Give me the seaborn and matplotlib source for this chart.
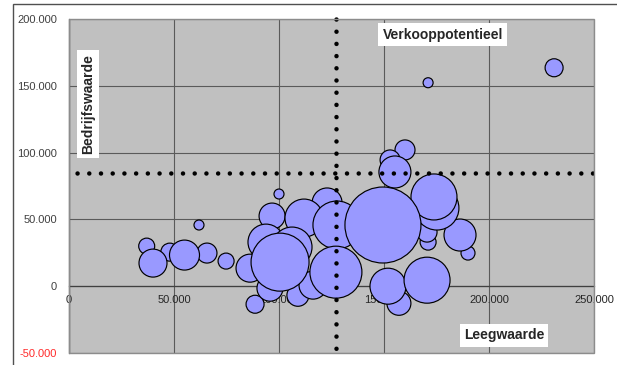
import numpy as np
import pandas as pd
import matplotlib
matplotlib.use("Agg")
import matplotlib.pyplot as plt
from matplotlib.patches import Rectangle
from matplotlib.ticker import FixedLocator
import seaborn as sns

# Portefeuille: leegwaarde (x), bedrijfswaarde (y), omvang (bubble area)
leegwaarde = [37000, 40000, 48000, 55000, 65700, 61900, 74800, 86200, 88600,
              100000, 96700, 93800, 95700, 100500, 106200, 111900, 109000,
              116200, 122900, 127600, 127100, 160000, 152900, 155200, 149500,
              175200, 173800, 186200, 190000, 170500, 171000, 170500, 151900,
              157100, 231000, 171000]
bedrijfswaarde = [30000, 17300, 25500, 23300, 24800, 45800, 18800, 13500,
                  -13500, 69000, 52500, 33000, -1500, 18000, 29300, 51000,
                  -6800, 800, 62300, 45800, 10500, 102000, 94500, 85500, 45800,
                  58500, 66800, 38300, 24800, 40500, 33000, 4500, 0, -12800,
                  163500, 152300]
omvang = [64, 196, 81, 225, 100, 25, 64, 196, 81, 25, 169, 324, 169, 841, 400,
          361, 121, 196, 225, 576, 676, 100, 100, 256, 1444, 484, 529, 256, 49,
          100, 64, 529, 324, 144, 81, 25]

# Reference lines splitting the quadrants
grens_leegwaarde = 127000
grens_bedrijfswaarde = 85000

x_ticks = [0, 50000, 100000, 150000, 200000, 250000]
y_ticks = [-50000, 0, 50000, 100000, 150000, 200000]

sns.set_style("white")
plt.rcParams["font.family"] = ["Liberation Sans", "DejaVu Sans"]

DPI = 100
fig = plt.figure(figsize=(6.17, 3.65), dpi=DPI)
ax = fig.add_axes([69 / 617, 1 - 353 / 365, 525 / 617, 334 / 365])
ax.set_facecolor("#C0C0C0")

df = pd.DataFrame({"leegwaarde": leegwaarde,
                   "bedrijfswaarde": bedrijfswaarde,
                   "omvang": omvang}).sort_values("omvang")

# bubble area proportional to omvang
px_to_pt = 72 / DPI
max_r_px = np.sqrt(df["omvang"].max())
s_max = (2 * max_r_px * px_to_pt) ** 2
sns.scatterplot(data=df, x="leegwaarde", y="bedrijfswaarde", size="omvang",
                sizes=(0, s_max), size_norm=(0, df["omvang"].max()),
                color="#9999FF", edgecolor="black", linewidth=0.85,
                alpha=1, legend=False, ax=ax, zorder=3)

ax.set_xlim(0, 250000)
ax.set_ylim(-50000, 200000)

# grid
ax.xaxis.set_major_locator(FixedLocator(x_ticks))
ax.yaxis.set_major_locator(FixedLocator(y_ticks))
ax.grid(True, color="#5a5a5a", linewidth=0.8)
ax.set_axisbelow(True)

fmt = lambda v: f"{v:,.0f}".replace(",", ".")
ax.set_xticklabels([fmt(v) for v in x_ticks])
ax.set_yticklabels([fmt(v) for v in y_ticks])
for lab, v in zip(ax.get_yticklabels(), y_ticks):
    lab.set_color("#ff2a2a" if v < 0 else "#404040")
for lab in ax.get_xticklabels():
    lab.set_color("#404040")

ax.tick_params(axis="both", labelsize=8, length=2.5, width=0.8,
               color="#404040", direction="out")
ax.tick_params(axis="x", pad=4)
ax.tick_params(axis="y", pad=6)

# axes: x axis crosses at 0
ax.spines["bottom"].set_position(("data", 0))
ax.spines["bottom"].set_color("#404040")
ax.spines["bottom"].set_linewidth(0.9)
ax.spines["left"].set_color("#404040")
ax.spines["left"].set_linewidth(0.9)
for side in ("top", "right"):
    ax.spines[side].set_visible(False)
ax.add_patch(Rectangle((0, 0), 1, 1, transform=ax.transAxes, fill=False,
                       edgecolor="#8c8c8c", linewidth=1.0, zorder=5,
                       clip_on=False))

ax.set_xlabel("")
ax.set_ylabel("")

# dotted quadrant lines
dot_lw = 4.5 * px_to_pt
h_gap = 11.67 * px_to_pt / dot_lw
v_gap = 12.15 * px_to_pt / dot_lw
ax.axhline(grens_bedrijfswaarde, color="black", linewidth=dot_lw,
           linestyle=(h_gap - 8 * px_to_pt / dot_lw, (0.01, h_gap)),
           dash_capstyle="round", zorder=4)
y_lo, y_hi = ax.get_ylim()
ax.plot([grens_leegwaarde, grens_leegwaarde], [y_hi, y_lo], color="black",
        linewidth=dot_lw, linestyle=(0, (0.01, v_gap)),
        dash_capstyle="round", zorder=4, clip_on=False)

# quadrant labels
box = dict(boxstyle="square,pad=0.3", facecolor="white", edgecolor="none")
ax.text(9000, 136500, "Bedrijfswaarde", rotation=90, ha="center",
        va="center", fontsize=10, fontweight="bold", bbox=box, zorder=6)
ax.text(178000, 188300, "Verkooppotentieel", ha="center", va="center",
        fontsize=10, fontweight="bold", bbox=box, zorder=6)
ax.text(207100, -36800, "Leegwaarde", ha="center", va="center",
        fontsize=10, fontweight="bold", bbox=box, zorder=6)

# outer chart frame
fig.add_artist(Rectangle((13 / 617, -0.2), 1.2, 1 - 4 / 365 + 0.2,
                         transform=fig.transFigure, fill=False,
                         edgecolor="#505050", linewidth=1.0))

fig.savefig("out.png", dpi=DPI, facecolor="white")
